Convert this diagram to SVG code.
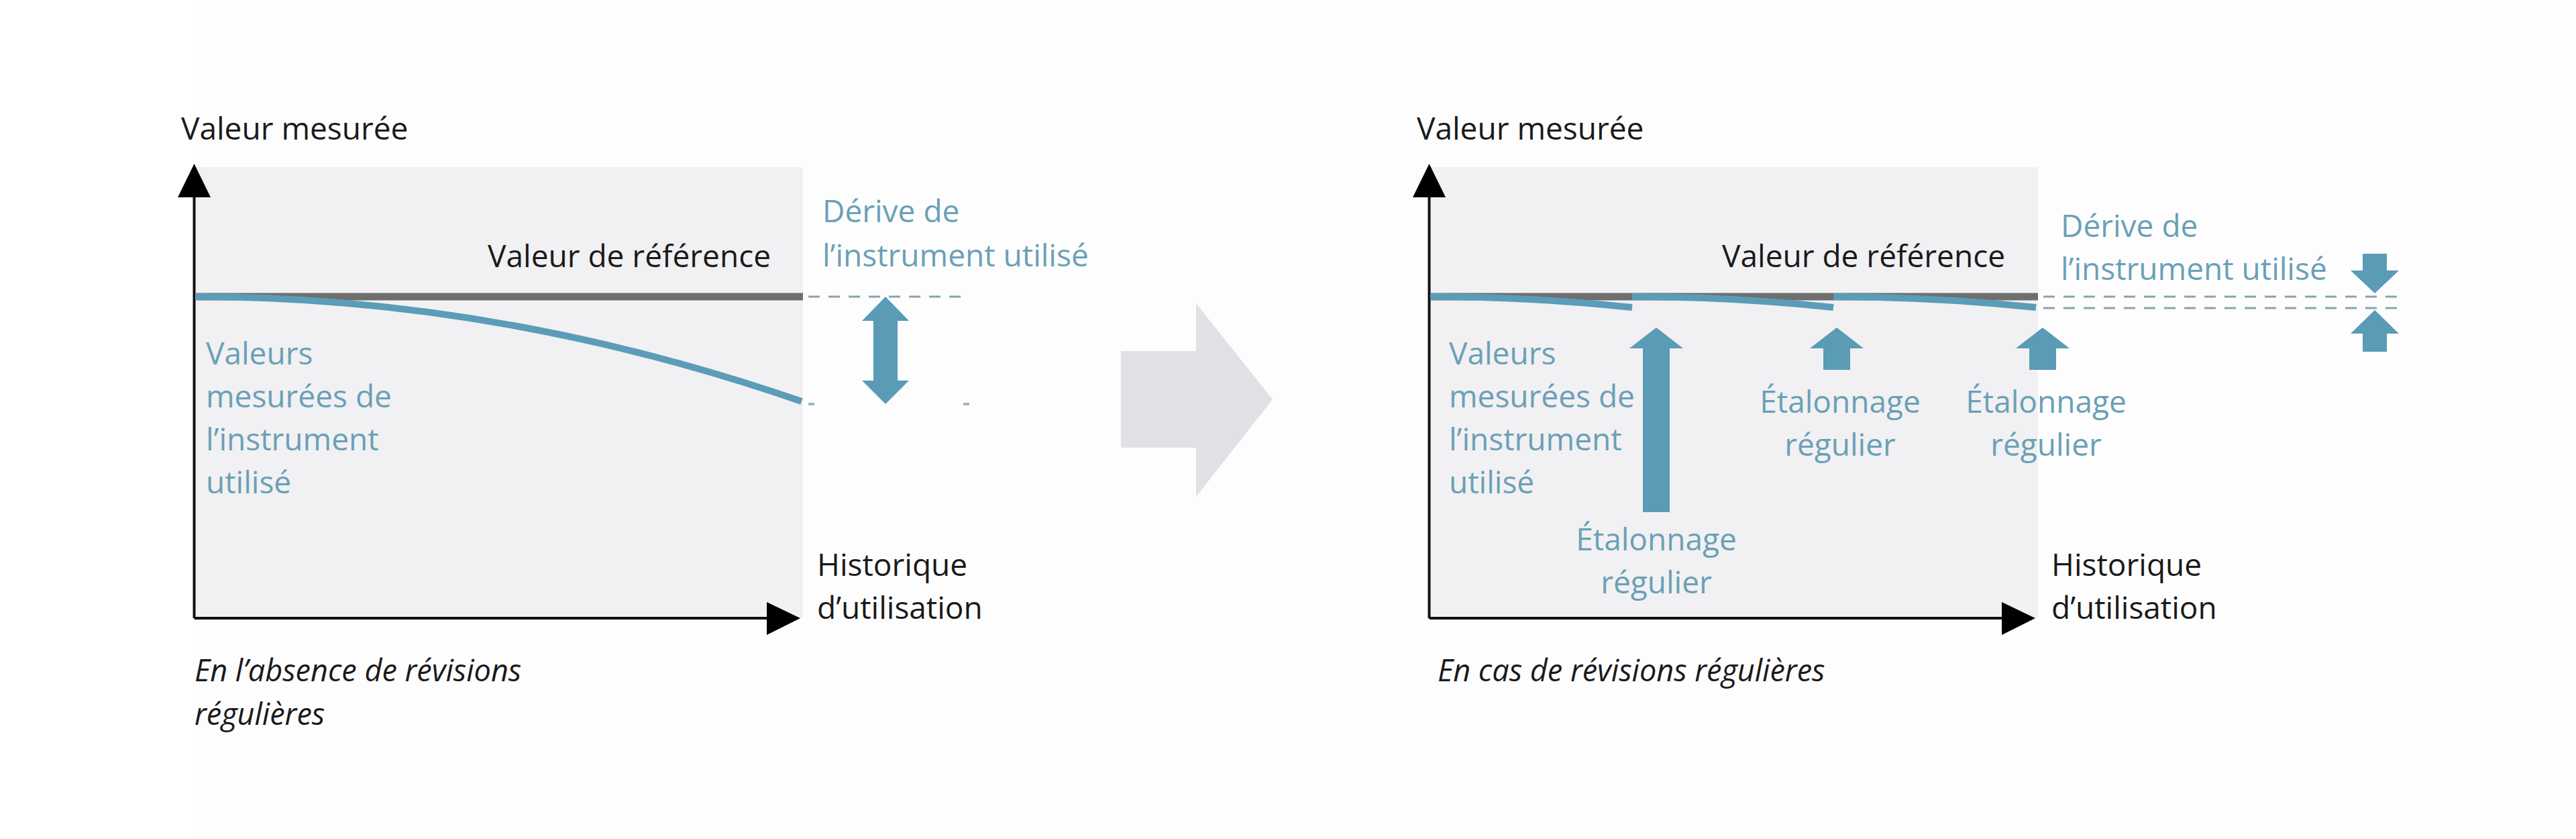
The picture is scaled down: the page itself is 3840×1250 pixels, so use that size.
<svg xmlns="http://www.w3.org/2000/svg" width="3840" height="1250" viewBox="0 0 3840 1250">
<style>
  text { font-family: "Open Sans", "Noto Sans", "Liberation Sans", sans-serif; font-size: 46px; }
  .dark { fill: #1a1a1a; }
  .blue { fill: #6aa0b6; }
  .cap { font-style: italic; font-size: 45px; fill: #1a1a1a; }
  .mid { text-anchor: middle; }
  .end { text-anchor: end; }
  .panel { fill: #f1f0f2; }
  .axis { stroke: #111111; stroke-width: 4; fill: none; }
  .head { fill: #000000; }
  .ref { stroke: #6e6e6e; stroke-width: 11; fill: none; }
  .meas { stroke: #5b9cb8; stroke-width: 10; fill: none; }
  .dash { stroke: #8aa3ae; stroke-width: 3; stroke-dasharray: 17 13; fill: none; }
  .arr { fill: #5a9bb6; }
</style>
<rect x="0" y="0" width="3840" height="1250" fill="#ffffff"/>
<rect x="288" y="0" width="3552" height="1250" fill="#fdfdfe"/>

<!-- transition chevron -->
<g id="transition-arrow">
  <polygon points="1671,523 1783,523 1783,452 1897,595 1783,740 1783,667 1671,667" fill="#e2e0e4"/>
</g>

<!-- LEFT PANEL -->
<g id="left-chart">
  <rect class="panel" x="291" y="249" width="906" height="672"/>
</g>
<g id="left-connectors">
  <line class="axis" x1="289.5" y1="921" x2="289.5" y2="290"/>
  <polygon class="head" points="289.5,244 265,294 314,294"/>
  <line class="axis" x1="289.5" y1="921" x2="1148" y2="921"/>
  <polygon class="head" points="1193,921 1143,897 1143,946"/>
  <line class="ref" x1="291" y1="442" x2="1197" y2="442"/>
  <path class="meas" d="M291,442 Q743,442 1195,598"/>
  <line class="dash" x1="1205" y1="442" x2="1445" y2="442"/>
  <rect x="1205" y="600" width="9" height="4" fill="#a9b4b9"/>
  <rect x="1436" y="600" width="9" height="4" fill="#a9b4b9"/>
  <polygon class="arr" points="1320,442 1355,478 1338,478 1338,567 1355,567 1320,602 1285,567 1302,567 1302,478 1285,478"/>
</g>
<g id="left-labels">
  <text class="dark" x="270" y="208">Valeur mesurée</text>
  <text class="dark end" x="1149" y="398">Valeur de référence</text>
  <text class="blue" x="1226" y="331">Dérive de</text>
  <text class="blue" x="1226" y="397">l’instrument utilisé</text>
  <text class="blue" x="307" y="543">Valeurs</text>
  <text class="blue" x="307" y="607">mesurées de</text>
  <text class="blue" x="307" y="671">l’instrument</text>
  <text class="blue" x="307" y="735">utilisé</text>
  <text class="dark" x="1218" y="858">Historique</text>
  <text class="dark" x="1218" y="922">d’utilisation</text>
  <text class="cap" x="290" y="1015">En l’absence de révisions</text>
  <text class="cap" x="290" y="1080">régulières</text>
</g>

<!-- RIGHT PANEL -->
<g id="right-chart">
  <rect class="panel" x="2132" y="249" width="906" height="672"/>
</g>
<g id="right-connectors">
  <line class="axis" x1="2130.5" y1="921" x2="2130.5" y2="290"/>
  <polygon class="head" points="2130.5,244 2106,294 2155,294"/>
  <line class="axis" x1="2130.5" y1="921" x2="2989" y2="921"/>
  <polygon class="head" points="3034,921 2984,897 2984,946"/>
  <line class="ref" x1="2132" y1="442" x2="3038" y2="442"/>
  <path class="meas" d="M2132,442 Q2282,442 2433,458"/>
  <path class="meas" d="M2433,442 Q2583,442 2733,458"/>
  <path class="meas" d="M2733,442 Q2884,442 3035,458"/>
  <line class="dash" x1="3046" y1="442" x2="3576" y2="442"/>
  <line class="dash" x1="3046" y1="459" x2="3576" y2="459"/>
  <polygon class="arr" points="2469,488 2509,519 2489,519 2489,763 2449,763 2449,519 2429,519"/>
  <polygon class="arr" points="2738,488 2778,519 2758,519 2758,551 2718,551 2718,519 2698,519"/>
  <polygon class="arr" points="3045,488 3085,519 3065,519 3065,551 3025,551 3025,519 3005,519"/>
  <polygon class="arr" points="3522,378 3558,378 3558,403 3576,403 3540,437 3504,403 3522,403"/>
  <polygon class="arr" points="3540,462 3576,497 3558,497 3558,524 3522,524 3522,497 3504,497"/>
</g>
<g id="right-labels">
  <text class="dark" x="2112" y="208">Valeur mesurée</text>
  <text class="dark end" x="2989" y="398">Valeur de référence</text>
  <text class="blue" x="3072" y="353">Dérive de</text>
  <text class="blue" x="3072" y="417">l’instrument utilisé</text>
  <text class="blue" x="2160" y="543">Valeurs</text>
  <text class="blue" x="2160" y="607">mesurées de</text>
  <text class="blue" x="2160" y="671">l’instrument</text>
  <text class="blue" x="2160" y="735">utilisé</text>
  <text class="blue mid" x="2469" y="820">Étalonnage</text>
  <text class="blue mid" x="2469" y="884">régulier</text>
  <text class="blue mid" x="2743" y="615">Étalonnage</text>
  <text class="blue mid" x="2743" y="679">régulier</text>
  <text class="blue mid" x="3050" y="615">Étalonnage</text>
  <text class="blue mid" x="3050" y="679">régulier</text>
  <text class="dark" x="3058" y="858">Historique</text>
  <text class="dark" x="3058" y="922">d’utilisation</text>
  <text class="cap" x="2143" y="1015">En cas de révisions régulières</text>
</g>
</svg>
